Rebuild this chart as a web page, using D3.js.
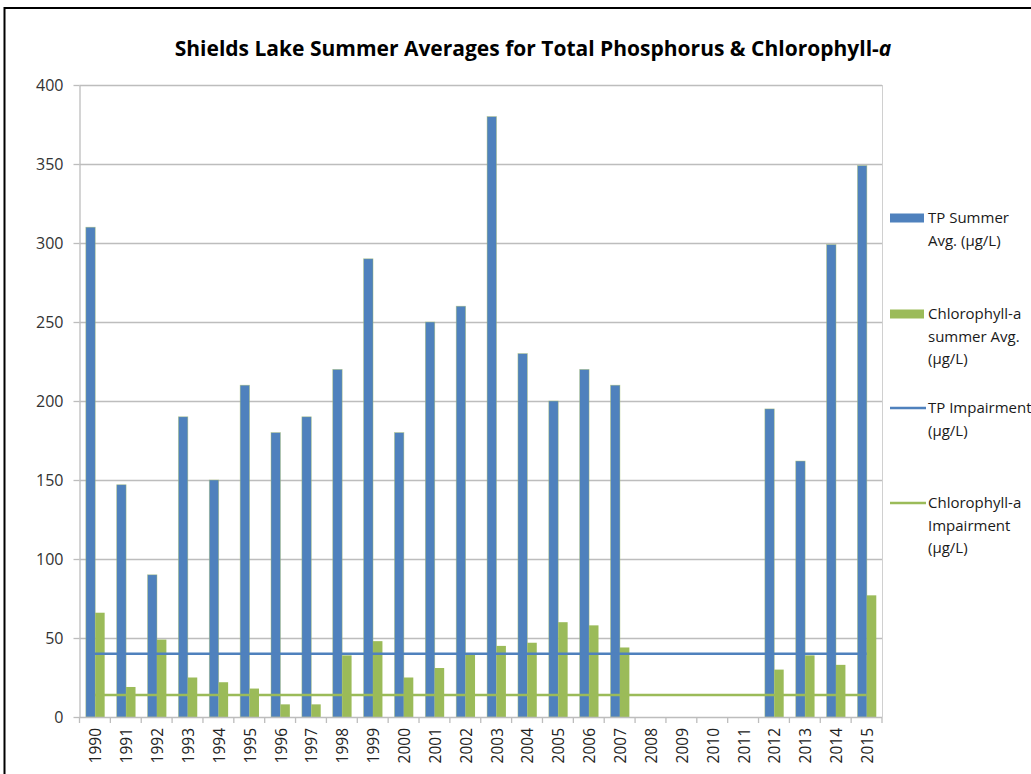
<!DOCTYPE html>
<html>
<head>
<meta charset="utf-8">
<script src="https://cdn.jsdelivr.net/npm/d3@7"></script>
<style>
  body { margin: 0; background: #fff; }
  text { font-family: "Open Sans", sans-serif; fill: #1a1a1a; }
  .title { font-weight: bold; font-size: 21px; fill: #000; }
  .y-label { font-size: 16px; fill: #333; }
  .x-label { font-size: 15.5px; fill: #222; }
  .legend-text { font-size: 15px; }
</style>
</head>
<body>
<div id="wrapper"></div>
<script>
const years = ["1990", "1991", "1992", "1993", "1994", "1995", "1996", "1997", "1998",
  "1999", "2000", "2001", "2002", "2003", "2004", "2005", "2006", "2007", "2008",
  "2009", "2010", "2011", "2012", "2013", "2014", "2015"]
const tpSummerAvg = [310, 147, 90, 190, 150, 210, 180, 190, 220, 290, 180, 250, 260,
  380, 230, 200, 220, 210, null, null, null, null, 195, 162, 299, 349]
const chlSummerAvg = [66, 19, 49, 25, 22, 18, 8, 8, 39, 48, 25, 31, 40,
  45, 47, 60, 58, 44, null, null, null, null, 30, 39, 33, 77]
const tpImpairment = 40
const chlImpairment = 14
const yTicks = [0, 50, 100, 150, 200, 250, 300, 350, 400]

const blue = "#4f81bd"
const green = "#9bbb59"

const legendItems = [
  { type: "bar", color: blue, lines: ["TP Summer", "Avg. (\u00b5g/L)"] },
  { type: "bar", color: green, lines: ["Chlorophyll-a", "summer Avg.", "(\u00b5g/L)"] },
  { type: "line", color: blue, lines: ["TP Impairment", "(\u00b5g/L)"] },
  { type: "line", color: green, lines: ["Chlorophyll-a", "Impairment", "(\u00b5g/L)"] },
]

const width = 1031
const height = 774
const plot = { left: 79.5, right: 882, top: 85, bottom: 717 }

const svg = d3.select("#wrapper")
  .append("svg")
  .attr("width", width)
  .attr("height", height)

// chart frame (cut off at right/bottom like the screenshot)
svg.append("rect")
  .attr("x", 4.5)
  .attr("y", 8)
  .attr("width", width + 20)
  .attr("height", height + 20)
  .attr("fill", "none")
  .attr("stroke", "#000")
  .attr("stroke-width", 2)

const title = svg.append("text")
  .attr("class", "title")
  .attr("x", 533)
  .attr("y", 56)
  .attr("text-anchor", "middle")
title.append("tspan").text("Shields Lake Summer Averages for Total Phosphorus & Chlorophyll-")
title.append("tspan").style("font-style", "italic").text("a")

const x = d3.scaleBand()
  .domain(years)
  .range([plot.left, plot.right])
  .padding(0)

const bw = x.bandwidth()
const x1 = d3.scaleBand()
  .domain(["tp", "chl"])
  .range([bw * 0.205, bw * 0.815])

const y = d3.scaleLinear()
  .domain([0, 400])
  .range([plot.bottom, plot.top])

// gridlines
svg.append("g")
  .selectAll("line")
  .data(yTicks.slice(1))
  .join("line")
  .attr("x1", plot.left)
  .attr("x2", plot.right)
  .attr("y1", d => Math.round(y(d)) + 0.5)
  .attr("y2", d => Math.round(y(d)) + 0.5)
  .attr("stroke", "#bdbdbd")
  .attr("stroke-width", 1.3)

// right edge of plot area
svg.append("line")
  .attr("x1", plot.right + 0.5).attr("x2", plot.right + 0.5)
  .attr("y1", plot.top).attr("y2", plot.bottom)
  .attr("stroke", "#d0d0d0")

// y axis
const yAxis = svg.append("g")
  .attr("transform", `translate(${plot.left},0)`)
  .call(d3.axisLeft(y).tickValues(yTicks).tickSize(6).tickPadding(10).tickSizeOuter(0))
yAxis.select(".domain").attr("stroke", "#bdbdbd").attr("stroke-width", 1.3)
yAxis.selectAll(".tick line").attr("stroke", "#bdbdbd").attr("stroke-width", 1.3)
yAxis.selectAll(".tick text")
  .attr("class", "y-label")
  .attr("font-family", null).attr("font-size", null)
yAxis.attr("font-family", null).attr("font-size", null)

// bars
const rows = years.map((yr, i) => ({ year: yr, tp: tpSummerAvg[i], chl: chlSummerAvg[i] }))

const groups = svg.append("g")
  .selectAll("g")
  .data(rows)
  .join("g")
  .attr("transform", d => `translate(${x(d.year)},0)`)

groups.filter(d => d.tp != null).append("rect")
  .attr("x", x1("tp"))
  .attr("width", x1.bandwidth())
  .attr("y", d => y(d.tp))
  .attr("height", d => y(0) - y(d.tp))
  .attr("fill", blue)
  .attr("stroke", "#a9bf6e")
  .attr("stroke-opacity", 0.6)
  .attr("stroke-width", 0.7)

groups.filter(d => d.chl != null).append("rect")
  .attr("x", x1("chl"))
  .attr("width", x1.bandwidth())
  .attr("y", d => y(d.chl))
  .attr("height", d => y(0) - y(d.chl))
  .attr("fill", green)

// x axis
svg.append("line")
  .attr("x1", plot.left).attr("x2", plot.right)
  .attr("y1", plot.bottom + 0.5).attr("y2", plot.bottom + 0.5)
  .attr("stroke", "#bdbdbd")
  .attr("stroke-width", 1.3)

svg.append("g")
  .selectAll("line")
  .data(years.map(d => x(d)).concat([plot.right]))
  .join("line")
  .attr("x1", d => d).attr("x2", d => d)
  .attr("y1", plot.bottom).attr("y2", plot.bottom + 6)
  .attr("stroke", "#bdbdbd")
  .attr("stroke-width", 1.3)

svg.append("g")
  .selectAll("text")
  .data(years)
  .join("text")
  .attr("class", "x-label")
  .attr("transform", d => `translate(${x(d) + bw / 2 + 1},728) rotate(-90)`)
  .attr("dy", "0.35em")
  .attr("text-anchor", "end")
  .text(d => d)

// impairment lines
const lineGen = d3.line()
  .x(d => x(d.year) + bw / 2)
  .y(d => y(d.v))

const impairments = [
  { v: tpImpairment, color: blue },
  { v: chlImpairment, color: green },
]
svg.append("g")
  .selectAll("path")
  .data(impairments)
  .join("path")
  .attr("d", imp => lineGen(years.map(yr => ({ year: yr, v: imp.v }))))
  .attr("fill", "none")
  .attr("stroke", d => d.color)
  .attr("stroke-width", 2.5)

// legend
const legendTops = [218, 314, 408, 503]
const lineSpacing = 22.5
const legend = svg.append("g")
legendItems.forEach((item, i) => {
  const g = legend.append("g").attr("transform", `translate(890,${legendTops[i]})`)
  if (item.type === "bar") {
    g.append("rect")
      .attr("x", 0).attr("y", -4.5)
      .attr("width", 34).attr("height", 9)
      .attr("fill", item.color)
  } else {
    g.append("line")
      .attr("x1", 0).attr("x2", 36)
      .attr("y1", 0).attr("y2", 0)
      .attr("stroke", item.color)
      .attr("stroke-width", 2.5)
  }
  g.selectAll("text")
    .data(item.lines)
    .join("text")
    .attr("class", "legend-text")
    .attr("x", 38)
    .attr("y", (d, j) => j * lineSpacing)
    .attr("dy", "0.35em")
    .text(d => d)
})
</script>
</body>
</html>
